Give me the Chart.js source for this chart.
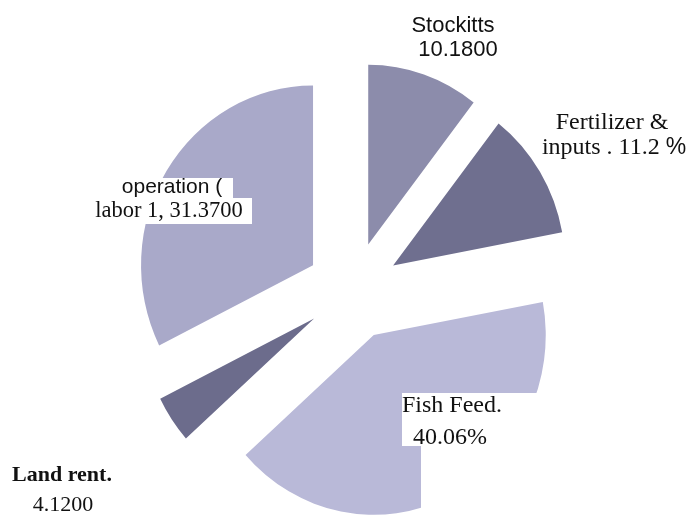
<!DOCTYPE html>
<html>
<head>
<meta charset="utf-8">
<script src="https://cdn.jsdelivr.net/npm/chart.js@4/dist/chart.umd.min.js"></script>
<style>
  html, body { margin: 0; padding: 0; background: #ffffff; }
  #wrap { width: 695px; height: 522px; }
</style>
</head>
<body>
<div id="wrap"><canvas id="c" width="695" height="522"></canvas></div>
<script>
// ---- data ----
const categories = ['Stockitts', 'Fertilizer & inputs', 'Fish Feed', 'Land rent', 'operation (labor)'];
const values = [10.18, 11.2, 40.06, 4.12, 31.37];
const labelLines = [
  ['Stockitts', '10.1800'],
  ['Fertilizer &', 'inputs . 11.2 %'],
  ['Fish Feed.', '40.06%'],
  ['Land rent.', '4.1200'],
  ['operation (', 'labor 1, 31.3700']
];

// ---- styles ----
const colors = ['#8c8cab', '#6f6f8f', '#b9b9d8', '#6c6c8c', '#a9a9c9'];
const explode = 47;      // px each slice is pulled out along its mid angle
const stretchY = 1.045;  // pie is slightly taller than wide
const SANS = '"Liberation Sans", Arial, sans-serif';
const SERIF = '"Liberation Serif", "Times New Roman", serif';

// label layout: per line x, baseline y, align, font (optional font for a trailing "%")
const labelStyle = [
  [{x: 453, y: 32, align: 'center', font: '22px ' + SANS}, {x: 458, y: 56, align: 'center', font: '22px ' + SANS}],
  [{x: 612, y: 129, align: 'center', font: '24px ' + SERIF}, {x: 614, y: 154, align: 'center', font: '24px ' + SERIF, pctFont: '23px ' + SANS}],
  [{x: 402, y: 412, align: 'left', font: '24px ' + SERIF}, {x: 413, y: 444, align: 'left', font: '24px ' + SERIF}],
  [{x: 62, y: 481, align: 'center', font: 'bold 22px ' + SERIF}, {x: 63, y: 511, align: 'center', font: '22px ' + SERIF}],
  [{x: 172, y: 193, align: 'center', font: '21px ' + SANS}, {x: 169, y: 217, align: 'center', font: '22.5px ' + SERIF}]
];
// white label backgrounds (as in the scanned original)
const labelBoxes = [
  {x: 100, y: 178, w: 133, h: 20},
  {x: 88, y: 198, w: 164, h: 26},
  {x: 402, y: 393, w: 160, h: 53},
  {x: 421, y: 446, w: 141, h: 76}
];

function drawLine(ctx, text, s) {
  if (s.pctFont && text.endsWith('%')) {
    const head = text.slice(0, -1);
    ctx.font = s.font;
    const w1 = ctx.measureText(head).width;
    ctx.font = s.pctFont;
    const w2 = ctx.measureText('%').width;
    let x0 = s.x;
    if (s.align === 'center') x0 = s.x - (w1 + w2) / 2;
    else if (s.align === 'right') x0 = s.x - (w1 + w2);
    ctx.textAlign = 'left';
    ctx.font = s.font;
    ctx.fillText(head, x0, s.y);
    ctx.font = s.pctFont;
    ctx.fillText('%', x0 + w1, s.y);
  } else {
    ctx.font = s.font;
    ctx.textAlign = s.align;
    ctx.fillText(text, s.x, s.y);
  }
}

const explodePlugin = {
  id: 'explodeStretch',
  beforeDatasetsDraw(chart) {
    const ctx = chart.ctx;
    const meta = chart.getDatasetMeta(0);
    const a = chart.chartArea;
    const cx = (a.left + a.right) / 2, cy = (a.top + a.bottom) / 2;
    ctx.save();
    ctx.translate(cx, cy);
    ctx.scale(1, stretchY);
    ctx.translate(-cx, -cy);
    meta.data.forEach(arc => {
      const mid = (arc.startAngle + arc.endAngle) / 2;
      arc._ox = arc.x; arc._oy = arc.y;
      arc.x = arc.x + Math.cos(mid) * explode;
      arc.y = arc.y + Math.sin(mid) * explode;
    });
  },
  afterDatasetsDraw(chart) {
    const ctx = chart.ctx;
    const meta = chart.getDatasetMeta(0);
    meta.data.forEach(arc => { arc.x = arc._ox; arc.y = arc._oy; });
    ctx.restore();
    ctx.save();
    ctx.fillStyle = '#ffffff';
    labelBoxes.forEach(b => ctx.fillRect(b.x, b.y, b.w, b.h));
    ctx.fillStyle = '#111111';
    ctx.textBaseline = 'alphabetic';
    labelLines.forEach((lines, i) => {
      lines.forEach((t, j) => drawLine(ctx, t, labelStyle[i][j]));
    });
    ctx.restore();
  }
};

new Chart(document.getElementById('c'), {
  type: 'pie',
  data: {
    labels: categories,
    datasets: [{
      data: values,
      backgroundColor: colors,
      borderWidth: 0,
      hoverOffset: 0
    }]
  },
  options: {
    responsive: false,
    animation: false,
    events: [],
    radius: 172,
    layout: { padding: { left: 11, top: 60, right: 0, bottom: 0 } },
    plugins: { legend: { display: false }, tooltip: { enabled: false } }
  },
  plugins: [explodePlugin]
});
</script>
</body>
</html>
